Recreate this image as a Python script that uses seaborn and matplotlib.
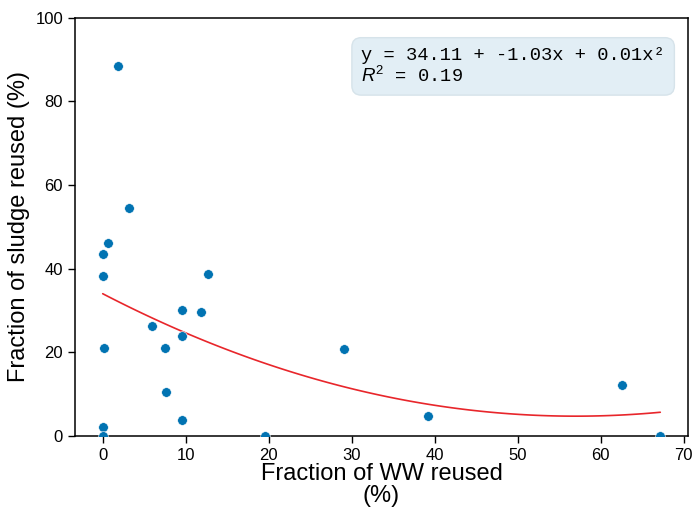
import numpy as np
import pandas as pd
import matplotlib
matplotlib.use("Agg")
import matplotlib.pyplot as plt
import seaborn as sns

# fraction of wastewater reused (%) vs fraction of sludge reused (%)
ww_reused = [1.8, 3.2, 0.6, 0.0, 0.0, 12.7, 9.5, 11.9, 5.9, 9.6, 0.2,
             7.5, 29.1, 7.6, 9.6, 0.0, 0.0, 19.5, 39.2, 62.6, 67.2]
sludge_reused = [88.4, 54.5, 46.1, 43.5, 38.3, 38.6, 30.1, 29.7, 26.2, 24.0, 21.1,
                 21.1, 20.7, 10.6, 3.8, 2.2, 0.0, 0.0, 4.7, 12.1, 0.0]

fit_label = "y = 34.11 + -1.03x + 0.01x²\n$R^2$ = 0.19"

df = pd.DataFrame({"ww": ww_reused, "sludge": sludge_reused})

sns.set_style("ticks", {"axes.edgecolor": "black", "text.color": "black",
                        "axes.labelcolor": "black", "xtick.color": "black",
                        "ytick.color": "black"})
plt.rcParams["font.family"] = ["Liberation Sans", "DejaVu Sans"]
plt.rcParams["mathtext.fontset"] = "custom"
plt.rcParams["mathtext.it"] = "Liberation Sans:italic"
plt.rcParams["mathtext.rm"] = "Liberation Sans"

fig, ax = plt.subplots(figsize=(6.93, 5.08), dpi=100)
fig.subplots_adjust(left=0.108, right=0.993, top=0.965, bottom=0.142)

sns.scatterplot(data=df, x="ww", y="sludge", color="#0173b2", s=48,
                edgecolor="white", linewidth=0.4, ax=ax, zorder=3)
sns.regplot(data=df, x="ww", y="sludge", order=2, ci=None, scatter=False,
            line_kws={"color": "#e8262b", "linewidth": 1.2}, ax=ax)

ax.set_ylim(0, 100)
ax.set_xlabel("Fraction of WW reused\n(%)", fontsize=17, labelpad=0, linespacing=1.0)
ax.set_ylabel("Fraction of sludge reused (%)", fontsize=17)
ax.tick_params(labelsize=12, length=5, width=1)
for sp in ax.spines.values():
    sp.set_linewidth(1.1)

ax.text(0.467, 0.93, fit_label, transform=ax.transAxes, va="top", ha="left",
        fontsize=13.5, family="Liberation Mono", linespacing=1.1,
        bbox=dict(boxstyle="round,pad=0.5", facecolor="#e2eef5", edgecolor="#d6e3ea"))

fig.savefig("out.png", dpi=100)
